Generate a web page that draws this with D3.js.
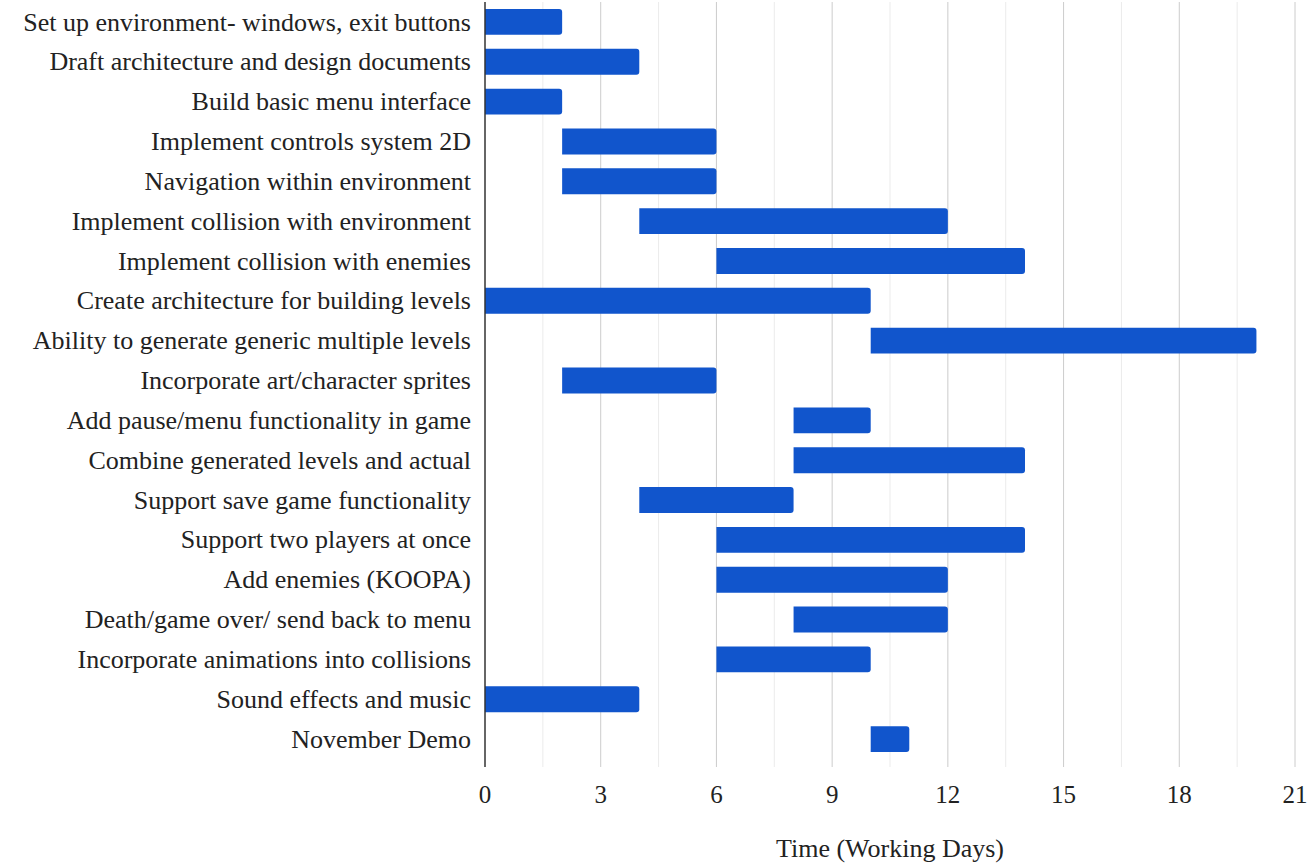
<!DOCTYPE html>
<html>
<head>
    <meta charset="UTF-8">
    <title>Project Timeline</title>
    <style>
        body { margin: 0; background: #fff; }
        text { font-family: "Liberation Serif", "Times New Roman", serif; fill: #222; }
    </style>
    <script src="https://d3js.org/d3.v7.min.js"></script>
</head>
<body>
    <div id="chart"></div>
    <script>
        var tasks = [
            "Set up environment- windows, exit buttons",
            "Draft architecture and design documents",
            "Build basic menu interface",
            "Implement controls system 2D",
            "Navigation within environment",
            "Implement collision with environment",
            "Implement collision with enemies",
            "Create architecture for building levels",
            "Ability to generate generic multiple levels",
            "Incorporate art/character sprites",
            "Add pause/menu functionality in game",
            "Combine generated levels and actual",
            "Support save game functionality",
            "Support two players at once",
            "Add enemies (KOOPA)",
            "Death/game over/ send back to menu",
            "Incorporate animations into collisions",
            "Sound effects and music",
            "November Demo"
        ];
        var startDays = [0, 0, 0, 2, 2, 4, 6, 0, 10, 2, 8, 8, 4, 6, 6, 8, 6, 0, 10];
        var endDays   = [2, 4, 2, 6, 6, 12, 14, 10, 20, 6, 10, 14, 8, 14, 12, 12, 10, 4, 11];
        var xTicks = [0, 3, 6, 9, 12, 15, 18, 21];
        var minorTicks = [1.5, 4.5, 7.5, 10.5, 13.5, 16.5, 19.5];

        var width = 1314, height = 865;
        var margin = {top: 2, right: 19, bottom: 98, left: 485};
        var innerW = width - margin.left - margin.right,
            innerH = height - margin.top - margin.bottom;

        var svg = d3.select("#chart").append("svg")
            .attr("width", width)
            .attr("height", height);

        var g = svg.append("g")
            .attr("transform", "translate(" + margin.left + "," + margin.top + ")");

        var x = d3.scaleLinear().domain([0, 21]).range([0, innerW]);
        var y = d3.scaleBand().domain(tasks).range([0, 757]).paddingInner(0.35).paddingOuter(0.175);

        // gridlines
        g.selectAll(".minor").data(minorTicks).enter().append("line")
            .attr("x1", d => x(d)).attr("x2", d => x(d))
            .attr("y1", 0).attr("y2", innerH)
            .attr("stroke", "#ebebeb").attr("stroke-width", 1);
        g.selectAll(".major").data(xTicks.slice(1)).enter().append("line")
            .attr("x1", d => x(d)).attr("x2", d => x(d))
            .attr("y1", 0).attr("y2", innerH)
            .attr("stroke", "#cccccc").attr("stroke-width", 1);

        // bars, rounded on the right end only
        var r = 3;
        g.selectAll(".bar").data(tasks).enter().append("path")
            .attr("fill", "#1155cc")
            .attr("d", function(d, i) {
                var x0 = x(startDays[i]), x1 = x(endDays[i]);
                var y0 = y(d), h = y.bandwidth();
                return "M" + x0 + "," + y0 +
                    "H" + (x1 - r) +
                    "Q" + x1 + "," + y0 + " " + x1 + "," + (y0 + r) +
                    "V" + (y0 + h - r) +
                    "Q" + x1 + "," + (y0 + h) + " " + (x1 - r) + "," + (y0 + h) +
                    "H" + x0 + "Z";
            });

        // left axis line
        g.append("line")
            .attr("x1", 0).attr("x2", 0)
            .attr("y1", 0).attr("y2", innerH)
            .attr("stroke", "#333").attr("stroke-width", 1.5);

        // task labels
        g.selectAll(".label").data(tasks).enter().append("text")
            .attr("x", -14)
            .attr("y", d => y(d) + y.bandwidth() / 2)
            .attr("dy", "0.33em")
            .attr("text-anchor", "end")
            .attr("font-size", 26)
            .text(d => d);

        // x tick labels
        g.selectAll(".tick").data(xTicks).enter().append("text")
            .attr("x", d => x(d))
            .attr("y", 801)
            .attr("text-anchor", "middle")
            .attr("font-size", 25)
            .text(d => d);

        // axis title
        svg.append("text")
            .attr("x", margin.left + innerW / 2)
            .attr("y", 857)
            .attr("text-anchor", "middle")
            .attr("font-size", 26)
            .text("Time (Working Days)");
    </script>
</body>
</html>
